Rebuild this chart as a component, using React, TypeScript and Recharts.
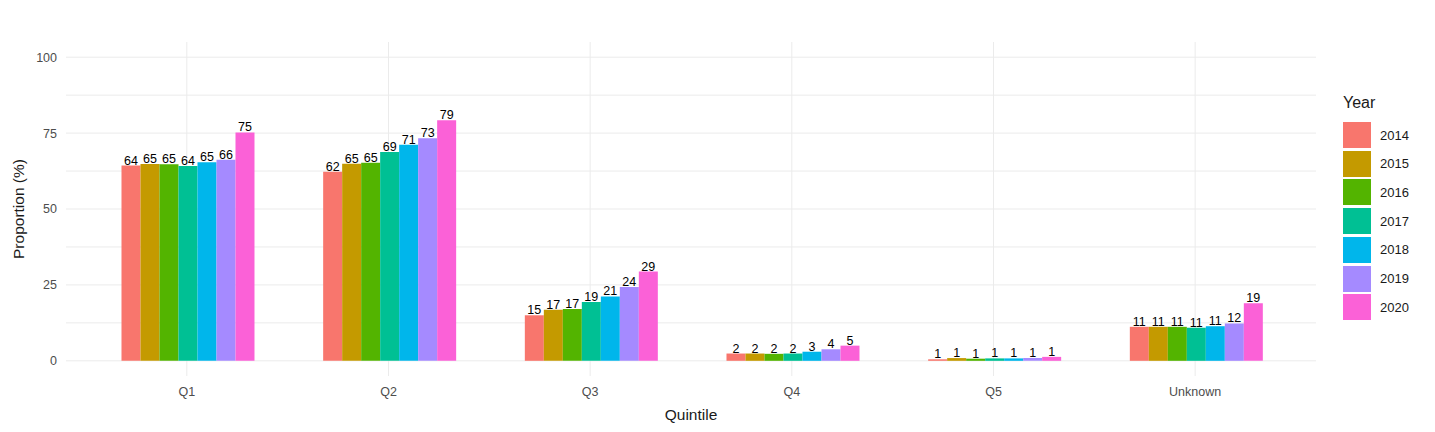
import React from 'react'
import {
  Bar,
  BarChart,
  CartesianGrid,
  LabelList,
  XAxis,
  YAxis,
} from 'recharts'

/* ggplot default hue palette for 7 levels */
const COLORS = ['#F8766D', '#C49A00', '#53B400', '#00C094', '#00B6EB', '#A58AFF', '#FB61D7']

const quintiles = ['Q1', 'Q2', 'Q3', 'Q4', 'Q5', 'Unknown']
const years = ['2014', '2015', '2016', '2017', '2018', '2019', '2020']

const y2014 = [64.3, 62.3, 15.0, 2.4, 0.5, 11.2]
const y2015 = [64.8, 64.9, 16.8, 2.4, 0.9, 11.2]
const y2016 = [64.7, 65.2, 17.1, 2.3, 0.7, 11.2]
const y2017 = [64.2, 68.8, 19.4, 2.4, 0.8, 10.9]
const y2018 = [65.4, 71.2, 21.2, 3.0, 0.8, 11.4]
const y2019 = [66.2, 73.3, 24.3, 3.8, 0.9, 12.3]
const y2020 = [75.2, 79.2, 29.4, 5.0, 1.3, 19.0]

const yTicks = [0, 25, 50, 75, 100]
const yMinorTicks = [12.5, 37.5, 62.5, 87.5]

const series = [y2014, y2015, y2016, y2017, y2018, y2019, y2020]

const data = quintiles.map((q, i) => {
  const row: Record<string, string | number> = { name: q }
  years.forEach((yr, j) => {
    row[yr] = series[j][i]
  })
  return row
})

const allTicks = [...yTicks, ...yMinorTicks].sort((a, b) => a - b)
const font = '"Liberation Sans", Arial, sans-serif'

// apply an axis scale whether it is a plain d3 function or a wrapped scale object
const applyScale = (s: any, v: any): number => {
  if (!s) return NaN
  if (typeof s === 'function') return s(v)
  if (typeof s.map === 'function') return s.map(v)
  if (typeof s.scale === 'function') return s.scale(v)
  return NaN
}
const bandOf = (s: any): number => {
  if (!s) return 0
  if (typeof s.bandwidth === 'function') return s.bandwidth() ?? 0
  if (s.scale && typeof s.scale.bandwidth === 'function') return s.scale.bandwidth()
  return 0
}

// grid only at tick positions (no panel border)
const vGrid = ({ xAxis }: any) => {
  const s = xAxis?.scale
  const bw = bandOf(s)
  return quintiles.map((q) => applyScale(s, q) + bw / 2).filter((v) => Number.isFinite(v))
}
const hGrid = ({ yAxis }: any) => {
  const s = yAxis?.scale
  return allTicks.map((t) => applyScale(s, t)).filter((v) => Number.isFinite(v))
}

export default function App() {
  return (
    <div style={{ position: 'absolute', left: 0, top: 0, width: 1435, height: 432, background: '#fff', fontFamily: font }}>
      <BarChart
        width={1435}
        height={432}
        data={data}
        margin={{ top: 42, right: 119, bottom: 0, left: 0 }}
        barCategoryGap="17.6%"
        barGap={0}
      >
        <CartesianGrid
          stroke="#EBEBEB"
          strokeWidth={1}
          verticalCoordinatesGenerator={vGrid}
          horizontalCoordinatesGenerator={hGrid}
        />
        <XAxis
          dataKey="name"
          height={56}
          padding={{ left: 20, right: 20 }}
          tick={{ fontSize: 12.5, fill: '#4D4D4D', fontFamily: font }}
          tickLine={false}
          axisLine={false}
          tickSize={0}
          tickMargin={11}
          label={{ value: 'Quintile', position: 'insideBottom', offset: 12, fontSize: 15.5, fill: '#1a1a1a', fontFamily: font }}
        />
        <YAxis
          width={66}
          domain={[-5, 105]}
          ticks={allTicks}
          interval={0}
          tickFormatter={(v: number) => (yTicks.includes(v) ? String(v) : '')}
          tick={{ fontSize: 12.5, fill: '#4D4D4D', fontFamily: font }}
          tickLine={false}
          axisLine={false}
          tickSize={0}
          tickMargin={9}
          label={{
            content: ({ viewBox }: any) => {
              const cy = viewBox.y + viewBox.height / 2
              return (
                <text
                  x={18}
                  y={cy}
                  transform={`rotate(-90 18 ${cy})`}
                  textAnchor="middle"
                  dominantBaseline="central"
                  fontSize={15.5}
                  fill="#1a1a1a"
                  fontFamily={font}
                >
                  Proportion (%)
                </text>
              )
            },
          }}
        />
        {years.map((yr, j) => (
          <Bar key={yr} dataKey={yr} fill={COLORS[j]} isAnimationActive={false}>
            <LabelList
              dataKey={yr}
              position="top"
              offset={1}
              formatter={(v: any) => Math.round(Number(v))}
              style={{ fontSize: 12.5, fill: '#000', fontFamily: font }}
            />
          </Bar>
        ))}
      </BarChart>
      <div style={{ position: 'absolute', left: 1343, top: 94, fontSize: 16, color: '#1a1a1a' }}>Year</div>
      {years.map((yr, j) => (
        <div
          key={yr}
          style={{
            position: 'absolute',
            left: 1343,
            top: 122 + j * 28.7,
            display: 'flex',
            alignItems: 'center',
            height: 26,
          }}
        >
          <span style={{ width: 28, height: 26, background: COLORS[j], display: 'inline-block' }} />
          <span style={{ marginLeft: 9, fontSize: 13, color: '#1a1a1a' }}>{yr}</span>
        </div>
      ))}
    </div>
  )
}
